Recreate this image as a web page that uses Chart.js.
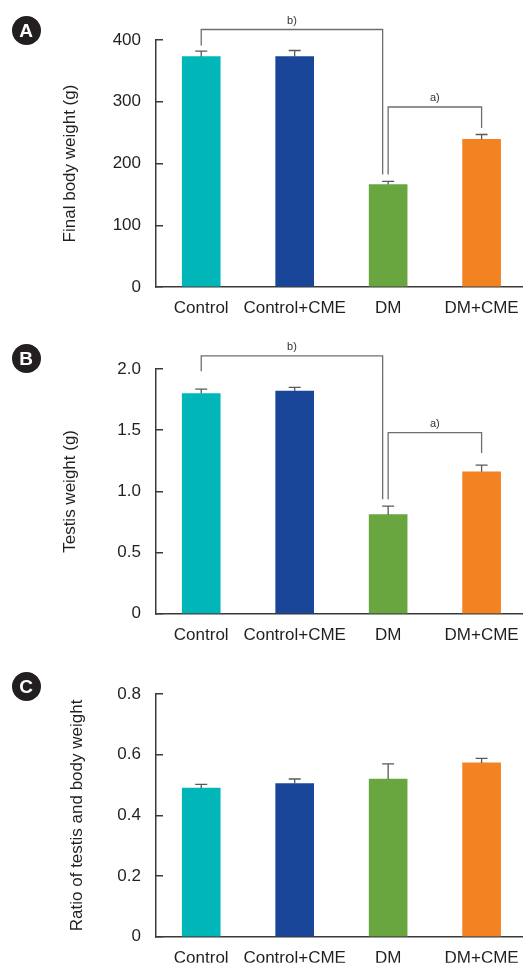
<!DOCTYPE html>
<html>
<head>
<meta charset="utf-8">
<script src="https://cdn.jsdelivr.net/npm/chart.js@4.4.0/dist/chart.umd.min.js"></script>
<style>
    body { margin: 0; background: #fff; width: 523px; height: 969px; overflow: hidden; position: relative; font-family: "Liberation Sans", Arial, sans-serif; }
    .panel { position: absolute; left: 0; width: 523px; height: 323px; }
    .tag { position: absolute; left: 11.5px; width: 29px; height: 29px; border-radius: 50%; background: #231f20; color: #fff; font-weight: bold; font-size: 19px; line-height: 29px; text-align: center; }
</style>
</head>
<body>
<div class="panel" style="top:0"><canvas id="grafikA"></canvas></div>
<div class="panel" style="top:323px"><canvas id="grafikB"></canvas></div>
<div class="panel" style="top:646px"><canvas id="grafikC"></canvas></div>
<div class="tag" style="top:16px">A</div>
<div class="tag" style="top:344px">B</div>
<div class="tag" style="top:672px">C</div>

<script>
// Data
var groups = ["Control", "Control+CME", "DM", "DM+CME"];
var barColors = ["#00b6b8", "#1a4699", "#69a640", "#f38222"];

var bodyWeight = [373, 373, 166, 239];
var bodyWeightErr = [9, 10, 5, 8];
var ticksA = [0, 100, 200, 300, 400];
var tickLabelsA = ["0", "100", "200", "300", "400"];

var testisWeight = [1.80, 1.82, 0.81, 1.16];
var testisWeightErr = [0.035, 0.03, 0.07, 0.055];
var ticksB = [0, 0.5, 1.0, 1.5, 2.0];
var tickLabelsB = ["0", "0.5", "1.0", "1.5", "2.0"];

var ratioWeight = [0.49, 0.505, 0.52, 0.573];
var ratioWeightErr = [0.012, 0.015, 0.05, 0.015];
var ticksC = [0, 0.2, 0.4, 0.6, 0.8];
var tickLabelsC = ["0", "0.2", "0.4", "0.6", "0.8"];

// significance brackets (values in axis units)
var bracketsA = [
    { from: 0, to: 2, top: 417, fromEnd: 391, toEnd: 182, text: "b)", toShift: -5.5 },
    { from: 2, to: 3, top: 291.5, fromEnd: 182, toEnd: 257.5, text: "a)", toShift: 0 }
];
var bracketsB = [
    { from: 0, to: 2, top: 2.108, fromEnd: 1.981, toEnd: 0.935, text: "b)", toShift: -5.5 },
    { from: 2, to: 3, top: 1.481, fromEnd: 0.935, toEnd: 1.314, text: "a)", toShift: 0 }
];

var axisColor = "#3a3a3a";
var textColor = "#231f20";

// Error bar (upper half only)
var errorBarPlugin = {
    id: "errorBars",
    afterDatasetsDraw: function (chart, args, opts) {
        var ctx = chart.ctx;
        var yScale = chart.scales.y;
        var meta = chart.getDatasetMeta(0);
        ctx.save();
        ctx.strokeStyle = "#58595b";
        ctx.lineWidth = 1.3;
        meta.data.forEach(function (bar, i) {
            var v = chart.data.datasets[0].data[i].y;
            var y0 = yScale.getPixelForValue(v);
            var y1 = yScale.getPixelForValue(v + opts.errors[i]);
            ctx.beginPath();
            ctx.moveTo(bar.x, y0);
            ctx.lineTo(bar.x, y1);
            ctx.moveTo(bar.x - 6, y1);
            ctx.lineTo(bar.x + 6, y1);
            ctx.stroke();
        });
        ctx.restore();
    }
};

// Bracket a) b)
var bracketPlugin = {
    id: "brackets",
    afterDraw: function (chart, args, opts) {
        if (!opts.items) return;
        var ctx = chart.ctx;
        var xScale = chart.scales.x;
        var yScale = chart.scales.y;
        ctx.save();
        ctx.strokeStyle = "#6d6e71";
        ctx.lineWidth = 1.3;
        ctx.fillStyle = "#333";
        ctx.font = "11px 'Liberation Sans', Arial, sans-serif";
        ctx.textAlign = "center";
        ctx.textBaseline = "middle";
        opts.items.forEach(function (b) {
            var x1 = xScale.getPixelForValue(b.from);
            var x2 = xScale.getPixelForValue(b.to) + b.toShift;
            var yTop = yScale.getPixelForValue(b.top);
            ctx.beginPath();
            ctx.moveTo(x1, yScale.getPixelForValue(b.fromEnd));
            ctx.lineTo(x1, yTop);
            ctx.lineTo(x2, yTop);
            ctx.lineTo(x2, yScale.getPixelForValue(b.toEnd));
            ctx.stroke();
            ctx.fillText(b.text, (x1 + x2) / 2, yTop - 9);
        });
        ctx.restore();
    }
};

function makeChart(id, values, errors, tickValues, tickLabels, yTitle, titlePad, padTop, xHeight, brackets) {
    var ctx = document.getElementById(id).getContext("2d");
    return new Chart(ctx, {
        type: "bar",
        data: {
            datasets: [{
                data: values.map(function (v, i) { return { x: i, y: v }; }),
                backgroundColor: barColors,
                borderWidth: 0,
                barThickness: 38
            }]
        },
        options: {
            responsive: true,
            maintainAspectRatio: false,
            animation: false,
            layout: { padding: { top: padTop, right: 0, bottom: 0, left: 0 } },
            plugins: {
                legend: { display: false },
                tooltip: { enabled: false },
                errorBars: { errors: errors },
                brackets: { items: brackets }
            },
            scales: {
                x: {
                    type: "linear",
                    offset: false,
                    min: -0.484,
                    max: 3.443,
                    afterBuildTicks: function (s) {
                        s.ticks = groups.map(function (g, i) { return { value: i }; });
                    },
                    afterFit: function (s) {
                        s.height = xHeight;
                        s.paddingLeft = 0;
                        s.paddingRight = 0;
                    },
                    grid: { display: false, drawTicks: false, offset: false },
                    border: { display: true, color: axisColor, width: 1.5 },
                    ticks: {
                        autoSkip: false,
                        minRotation: 0,
                        maxRotation: 0,
                        padding: 11,
                        color: textColor,
                        font: { family: "'Liberation Sans', Arial, sans-serif", size: 17 },
                        callback: function (v, i) { return groups[i]; }
                    }
                },
                y: {
                    min: tickValues[0],
                    max: tickValues[tickValues.length - 1],
                    afterBuildTicks: function (s) {
                        s.ticks = tickValues.map(function (v) { return { value: v }; });
                    },
                    afterFit: function (s) { s.width = 156; },
                    grid: { drawOnChartArea: false, drawTicks: true, tickLength: -7, color: axisColor, lineWidth: 1.5 },
                    border: { display: true, color: axisColor, width: 1.5 },
                    ticks: {
                        padding: 22,
                        color: textColor,
                        font: { family: "'Liberation Sans', Arial, sans-serif", size: 17 },
                        callback: function (v, i) { return tickLabels[i]; }
                    },
                    title: {
                        display: true,
                        text: yTitle,
                        color: textColor,
                        font: { family: "'Liberation Sans', Arial, sans-serif", size: 17 },
                        padding: { top: titlePad, bottom: 0 }
                    }
                }
            }
        },
        plugins: [errorBarPlugin, bracketPlugin]
    });
}

var chartA = makeChart("grafikA", bodyWeight, bodyWeightErr, ticksA, tickLabelsA, "Final body weight (g)", 60, 40, 36, bracketsA);
var chartB = makeChart("grafikB", testisWeight, testisWeightErr, ticksB, tickLabelsB, "Testis weight (g)", 60, 46, 30, bracketsB);
var chartC = makeChart("grafikC", ratioWeight, ratioWeightErr, ticksC, tickLabelsC, "Ratio of testis and body weight", 67, 48, 26, []);
</script>
</body>
</html>
